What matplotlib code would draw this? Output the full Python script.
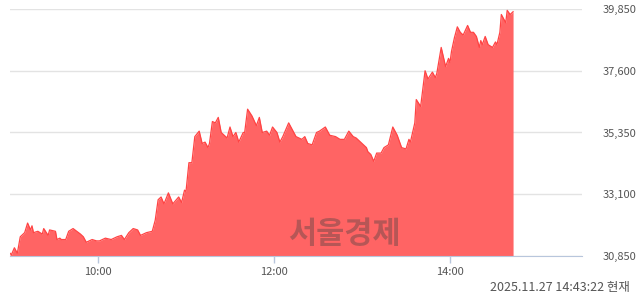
import matplotlib
matplotlib.use("Agg")
import matplotlib.pyplot as plt
from matplotlib.ticker import FuncFormatter

# minutes after 09:00 and price (KRW)
minutes = [0, 1, 3, 5, 7, 10, 12, 14, 15, 16, 19, 22, 23, 26, 27, 31, 32, 34, 35, 38,
           40, 43, 48, 50, 52, 56, 59, 61, 65, 69, 73, 76, 78, 81, 84, 87, 89, 93, 97, 99,
           101, 103, 105, 108, 111, 115, 117, 119, 120, 122, 124, 126, 129, 131, 133, 135, 136, 138, 140, 142,
           144, 146, 148, 150, 152, 154, 156, 159, 160, 162, 165, 168, 170, 172, 175, 177, 179, 182, 184, 186,
           190, 192, 195, 199, 201, 203, 206, 209, 211, 215, 218, 222, 225, 228, 231, 234, 236, 240, 243, 244,
           246, 248, 250, 253, 255, 258, 261, 264, 267, 270, 272, 273, 276, 277, 280, 283, 285, 288, 290, 291,
           294, 297, 299, 300, 301, 303, 305, 307, 309, 312, 314, 316, 318, 320, 321, 322, 324, 326, 329, 331,
           332, 334, 335, 338, 339, 341, 343]
prices = [30950, 30900, 31150, 30950, 31550, 31700, 32050, 31800, 31950, 31700, 31750, 31650, 31850, 31600, 31800, 31750, 31450, 31500, 31450, 31450,
          31750, 31850, 31650, 31550, 31350, 31450, 31400, 31400, 31500, 31450, 31550, 31600, 31450, 31700, 31850, 31800, 31600, 31700, 31750, 32150,
          32900, 33000, 32750, 33150, 32750, 33000, 32800, 33250, 33200, 34250, 34250, 35200, 35400, 34950, 35000, 34800, 34950, 35750, 35700, 35900,
          35350, 35250, 35150, 35550, 35200, 35350, 35000, 35350, 35350, 36200, 35950, 35600, 35900, 35350, 35400, 35250, 35550, 35350, 35000, 35200,
          35700, 35500, 35200, 35100, 35200, 34950, 34900, 35350, 35400, 35550, 35250, 35200, 35100, 35100, 35400, 35200, 35150, 34950, 34800, 34650,
          34550, 34300, 34600, 34600, 34800, 34900, 35550, 35250, 34800, 34750, 35100, 35000, 35700, 36550, 36300, 37600, 37300, 37550, 37350, 37500,
          38450, 37750, 38050, 37900, 38300, 38800, 39200, 39000, 38900, 39250, 39000, 39000, 38850, 38450, 38700, 38550, 38850, 38550, 38450, 38650,
          38550, 39000, 39650, 39350, 39800, 39650, 39750]

y_ticks = [30850, 33100, 35350, 37600, 39850]
x_ticks = [60, 180, 300]
x_labels = ["10:00", "12:00", "14:00"]
stamp = "2025.11.27 14:43:22 현재"
watermark = "서울경제"

fam = ["Noto Sans CJK KR", "DejaVu Sans"]
plt.rcParams["font.family"] = fam

fig = plt.figure(figsize=(6.4, 2.94), dpi=100)
ax = fig.add_axes([10 / 640, 38 / 294, 572 / 640, 247 / 294])

ax.fill_between(minutes, prices, y_ticks[0], color="#ff6464", lw=0, zorder=2)
ax.plot(minutes, prices, color="#ff4444", lw=0.9, zorder=3)

ax.set_xlim(0, 390)
ax.set_ylim(y_ticks[0], y_ticks[-1])

ax.set_yticks(y_ticks)
ax.yaxis.set_major_formatter(FuncFormatter(lambda v, p: f"{int(v):,}"))
ax.yaxis.tick_right()
ax.tick_params(axis="y", length=0, pad=15, labelsize=8, labelcolor="#555555")
for lbl in ax.get_yticklabels():
    lbl.set_horizontalalignment("left")
ax.grid(axis="y", color="#e3e3e3", lw=1, zorder=1)

ax.set_xticks(x_ticks)
ax.set_xticklabels(x_labels)
ax.tick_params(axis="x", length=5, width=1, color="#b8c6dc", labelsize=8,
               labelcolor="#555555", pad=3)

for s in ["top", "left", "right"]:
    ax.spines[s].set_visible(False)
ax.spines["bottom"].set_color("#b8c6dc")
ax.spines["bottom"].set_zorder(4)

# watermark sits over the filled area
ax.text(0.585, 0.09, watermark, transform=ax.transAxes, ha="center", va="center",
        fontsize=22, fontweight="bold", color="#404040", alpha=0.38, zorder=5)

fig.text(630 / 640, 1 - 287 / 294, stamp, ha="right", va="center",
         fontsize=9, color="#555555")

fig.savefig("out.png", dpi=100)
